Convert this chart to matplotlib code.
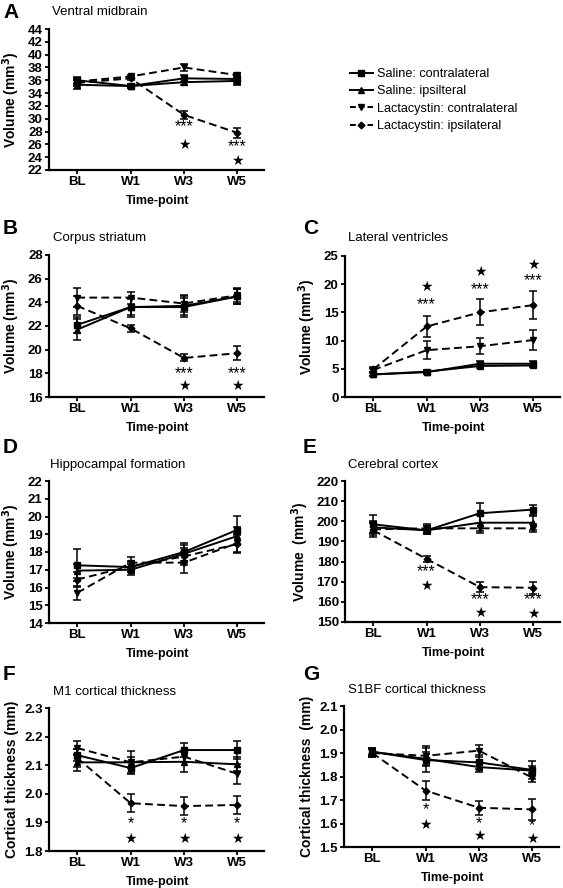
import matplotlib
matplotlib.use('Agg')
import matplotlib.pyplot as plt
from matplotlib.lines import Line2D

plt.rcParams['font.family'] = ['Liberation Sans', 'DejaVu Sans']

timepoints = ['BL', 'W1', 'W3', 'W5']
series_names = ['Saline: contralateral', 'Saline: ipsilteral',
                'Lactacystin: contralateral', 'Lactacystin: ipsilateral']

# rows: saline contra, saline ipsi, lactacystin contra, lactacystin ipsi
A_mean = [[36.0, 35.1, 36.3, 36.2], [35.3, 35.1, 35.7, 35.9],
          [35.8, 36.6, 38.0, 36.8], [35.6, 36.3, 30.6, 27.8]]
A_sem = [[0.5, 0.3, 0.5, 0.6], [0.7, 0.3, 0.5, 0.7],
         [0.5, 0.3, 0.6, 0.4], [0.5, 0.3, 0.6, 0.8]]
A_notes = [(2, 28.8, '***'), (2, 25.9, '★'), (3, 25.6, '***'), (3, 23.4, '★')]

B_mean = [[22.1, 23.6, 23.6, 24.5], [21.7, 23.6, 23.7, 24.5],
          [24.4, 24.4, 23.9, 24.6], [23.7, 21.8, 19.3, 19.7]]
B_sem = [[0.7, 0.7, 0.8, 0.6], [0.9, 0.8, 0.8, 0.6],
         [0.8, 0.5, 0.7, 0.6], [0.8, 0.3, 0.3, 0.6]]
B_notes = [(2, 18.0, '***'), (2, 16.9, '★'), (3, 18.0, '***'), (3, 16.9, '★')]

C_mean = [[4.0, 4.4, 5.9, 5.9], [4.0, 4.5, 5.5, 5.6],
          [4.8, 8.3, 9.0, 10.1], [4.9, 12.5, 15.0, 16.3]]
C_sem = [[0.3, 0.3, 0.4, 0.4], [0.3, 0.3, 0.3, 0.3],
         [0.4, 1.6, 1.4, 1.7], [0.4, 1.9, 2.3, 2.5]]
C_notes = [(1, 16.3, '***'), (1, 19.5, '★'), (2, 19.1, '***'), (2, 22.2, '★'),
           (3, 20.6, '***'), (3, 23.5, '★')]

D_mean = [[17.25, 17.15, 18.0, 19.25], [16.95, 17.0, 17.9, 18.9],
          [15.7, 17.4, 17.4, 18.5], [16.45, 17.2, 17.75, 18.45]]
D_sem = [[0.9, 0.3, 0.5, 0.8], [0.4, 0.3, 0.5, 0.5],
         [0.4, 0.3, 0.6, 0.5], [0.4, 0.3, 0.5, 0.5]]
D_notes = []

E_mean = [[198.5, 195.5, 204.0, 205.8], [197.0, 195.5, 199.3, 199.3],
          [196.0, 196.5, 196.5, 196.5], [195.5, 181.3, 167.3, 167.0]]
E_sem = [[4.5, 2.0, 5.0, 2.5], [3.0, 2.0, 4.0, 3.5],
         [3.0, 2.0, 2.5, 2.0], [3.5, 1.5, 2.5, 3.0]]
E_notes = [(1, 174.8, '***'), (1, 167.8, '★'), (2, 161.3, '***'), (2, 154.4, '★'),
           (3, 161.0, '***'), (3, 154.2, '★')]

F_mean = [[2.135, 2.09, 2.153, 2.153], [2.11, 2.11, 2.112, 2.103],
          [2.16, 2.11, 2.13, 2.07], [2.125, 1.967, 1.957, 1.961]]
F_sem = [[0.02, 0.02, 0.025, 0.033], [0.03, 0.02, 0.035, 0.025],
         [0.025, 0.038, 0.02, 0.035], [0.03, 0.032, 0.032, 0.03]]
F_notes = [(1, 1.895, '*'), (1, 1.842, '★'), (2, 1.895, '*'), (2, 1.842, '★'),
           (3, 1.895, '*'), (3, 1.842, '★')]

G_mean = [[1.905, 1.87, 1.86, 1.828], [1.905, 1.875, 1.84, 1.825],
          [1.9, 1.888, 1.91, 1.795], [1.9, 1.74, 1.667, 1.66]]
G_sem = [[0.015, 0.05, 0.03, 0.04], [0.015, 0.03, 0.02, 0.02],
         [0.015, 0.04, 0.025, 0.02], [0.015, 0.04, 0.03, 0.045]]
G_notes = [(1, 1.66, '*'), (1, 1.592, '★'), (2, 1.60, '*'), (2, 1.545, '★'),
           (3, 1.59, '*'), (3, 1.534, '★')]

W, H = 563, 888
styles = [('-', 's', 4.2), ('-', '^', 4.8), ('--', 'v', 4.8), ('--', 'D', 3.4)]
XLIM = (-0.53, 3.5)

fig = plt.figure(figsize=(W / 100, H / 100), dpi=100)


def px(x, y):
    return x / W, 1 - y / H


def panel(box, letter, lxy, title, txy, mean, sem, ylim, yticks, ylabel, notes, fmt):
    l, t, r, b = box
    ax = fig.add_axes([l / W, 1 - b / H, (r - l) / W, (b - t) / H])
    xs = list(range(len(timepoints)))
    for k in range(4):
        ls, mk, ms = styles[k]
        ax.errorbar(xs, mean[k], yerr=sem[k], color='black', ls=ls, lw=1.4,
                    marker=mk, ms=ms, capsize=3, elinewidth=1.1, capthick=1.1,
                    dashes=(4, 2.2) if ls == '--' else (None, None))
    for (i, y, s) in notes:
        if s == '★':
            ax.text(i, y, s, ha='center', va='center', fontsize=10,
                    family=['DejaVu Sans'])
        else:
            ax.text(i, y, s, ha='center', va='center', fontsize=11.5)
    ax.set_xlim(XLIM)
    ax.set_ylim(ylim)
    ax.set_yticks(yticks)
    ax.set_yticklabels([fmt.format(v) for v in yticks])
    ax.set_xticks(xs)
    ax.set_xticklabels(timepoints)
    for s in ['top', 'right']:
        ax.spines[s].set_visible(False)
    for s in ['left', 'bottom']:
        ax.spines[s].set_linewidth(1.6)
    ax.tick_params(width=1.3, length=3, labelsize=9.5, pad=1.5)
    for lab in ax.get_xticklabels() + ax.get_yticklabels():
        lab.set_fontweight('bold')
    ax.set_xlabel('Time-point', fontsize=9, fontweight='bold')
    ax.xaxis.label.set_va('center')
    ax.xaxis.set_label_coords((1.5 - XLIM[0]) / (XLIM[1] - XLIM[0]), -31 / (b - t))
    ax.set_ylabel(ylabel, fontsize=10, fontweight='bold', labelpad=4)
    fig.text(*px(*lxy), letter, fontsize=15, fontweight='bold', va='center', ha='left')
    fig.text(*px(*txy), title, fontsize=9.5, va='center', ha='left')
    return ax


vol = 'Volume (mm$^\\mathbf{3}$)'
thick = 'Cortical thickness (mm)'

panel((49, 29, 264, 170), 'A', (3, 13), 'Ventral midbrain', (52, 12),
      A_mean, A_sem, (22, 44), list(range(22, 45, 2)), vol, A_notes, '{:d}')
panel((49, 255, 264, 397), 'B', (3, 229), 'Corpus striatum', (53, 238),
      B_mean, B_sem, (16, 28), list(range(16, 29, 2)), vol, B_notes, '{:d}')
panel((345, 256, 560, 397), 'C', (303, 229), 'Lateral ventricles', (348, 238),
      C_mean, C_sem, (0, 25), list(range(0, 26, 5)), vol, C_notes, '{:d}')
panel((49, 481, 264, 623), 'D', (3, 447), 'Hippocampal formation', (50, 465),
      D_mean, D_sem, (14, 22), list(range(14, 23)), vol, D_notes, '{:d}')
panel((345, 481, 560, 622), 'E', (303, 447), 'Cerebral cortex', (348, 465),
      E_mean, E_sem, (150, 220), list(range(150, 221, 10)), 'Volume  (mm$^\\mathbf{3}$)',
      E_notes, '{:d}')
panel((49, 708, 264, 851), 'F', (3, 675), 'M1 cortical thickness', (53, 692),
      F_mean, F_sem, (1.8, 2.3), [1.8, 1.9, 2.0, 2.1, 2.2, 2.3], thick, F_notes, '{:.1f}')
panel((344, 706, 559, 847), 'G', (303, 675), 'S1BF cortical thickness', (348, 690),
      G_mean, G_sem, (1.5, 2.1), [1.5, 1.6, 1.7, 1.8, 1.9, 2.0, 2.1],
      'Cortical thickness  (mm)', G_notes, '{:.1f}')

handles = []
for k in range(4):
    ls, mk, ms = styles[k]
    handles.append(Line2D([], [], color='black', lw=1.4, marker=mk, ms=ms,
                          ls=ls, dashes=(3, 1.5) if ls == '--' else (None, None)))
fig.legend(handles, series_names, loc='upper left', bbox_to_anchor=px(345, 63),
           frameon=False, fontsize=9.1, handlelength=1.8, handletextpad=0.3,
           labelspacing=0.42, borderaxespad=0)

fig.savefig('out.png', dpi=100)
